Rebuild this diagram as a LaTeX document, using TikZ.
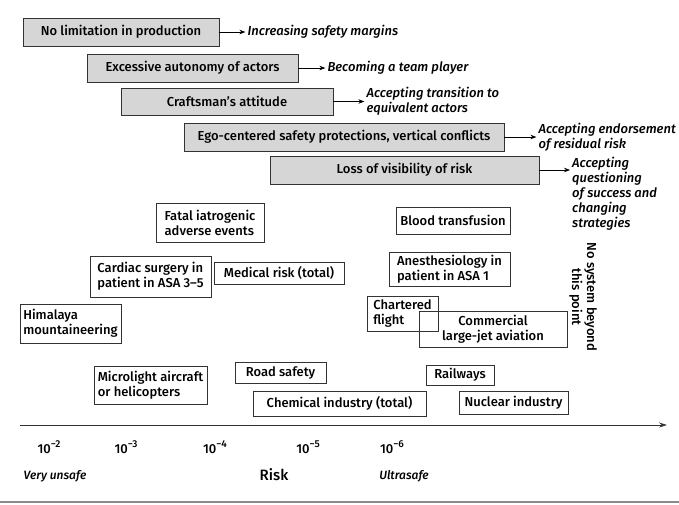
\documentclass[tikz,border=0pt]{standalone}
\usepackage{fontspec}
\setmainfont{Fira Sans}[UprightFont={* Medium}, ItalicFont={* Medium Italic}, BoldFont={* SemiBold}]
\usetikzlibrary{arrows.meta,positioning}
\newcommand{\riskexp}[1]{10\raisebox{0.45em}{\fontsize{10}{10}\selectfont −#1}}

\begin{document}
\begin{tikzpicture}[x=1pt, y=-1pt,
    barrier/.style={rectangle, draw=black!80, fill=black!16, line width=0.8pt, minimum height=28pt, inner sep=2pt, font=\fontsize{13}{15}\selectfont},
    note/.style={inner sep=2pt, align=left, font=\fontsize{13}{15}\selectfont\itshape},
    field/.style={rectangle, draw=black!80, line width=0.8pt, inner sep=3pt, align=left, font=\fontsize{13}{15}\selectfont},
    scalelabel/.style={inner sep=1pt, font=\fontsize{13}{15}\selectfont},
    arrow/.style={-{Stealth[length=6pt,width=4.5pt]}, line width=0.7pt}
]
\useasboundingbox (0,0) rectangle (679,504);

% Barriers and the way past them
\node[barrier, minimum width=196pt] (lim) at (121,32) {No limitation in production};
\node[barrier, minimum width=211pt] (auto) at (192.5,68) {Excessive autonomy of actors};
\node[barrier, minimum width=212pt, minimum height=27pt] (craft) at (227,101.5) {Craftsman's attitude};
\node[barrier, minimum width=320pt] (ego) at (344,137) {Ego-centered safety protections, vertical conflicts};
\node[barrier, minimum width=269pt] (vis) at (404.5,170) {Loss of visibility of risk};

\node[note, right=26pt of lim] (margins) {Increasing safety margins};
\node[note, right=27pt of auto] (team) {Becoming a team player};
\node[note, right=31pt of craft] (trans) {Accepting transition to\\equivalent actors};
\node[note, right=32pt of ego] (resid) {Accepting endorsement\\of residual risk};
\node[note, anchor=north west] (quest) at (570,155) {Accepting\\questioning\\of success and\\changing\\strategies};

\draw[arrow] (lim) -- (margins);
\draw[arrow] (auto) -- (team);
\draw[arrow] (craft) -- (trans);
\draw[arrow] (ego) -- (resid);
\draw[arrow] (vis.east) -- (vis.east -| quest.west);

% Domains by risk level
\node[field, minimum width=108pt, minimum height=39pt] (iatro) at (210,222.5) {Fatal iatrogenic\\adverse events};
\node[field, minimum width=121pt, minimum height=41pt] (cardiac) at (150.5,276.5) {Cardiac surgery in\\patient in ASA 3--5};
\node[field, minimum width=130pt, minimum height=22pt] (medical) at (279,273) {Medical risk (total)};
\node[field, minimum width=101pt, minimum height=39pt] (himalaya) at (70.5,323.5) {Himalaya\\mountaineering};
\node[field, minimum width=113pt, minimum height=38pt] (micro) at (150.5,385) {Microlight aircraft\\or helicopters};
\node[field, minimum width=91pt, minimum height=21pt] (road) at (280.5,372.5) {Road safety};
\node[field, minimum width=173pt, minimum height=25pt] (chem) at (339.5,403.5) {Chemical industry (total)};
\node[field, minimum width=114pt, minimum height=27pt] (blood) at (453,220.5) {Blood transfusion};
\node[field, minimum width=121pt, minimum height=34pt] (anest) at (449.5,269) {Anesthesiology in\\patient in ASA 1};
\node[field, minimum width=71pt, minimum height=35pt] (charter) at (402.5,313.5) {Chartered\\flight};
\node[field, minimum width=148pt, minimum height=36pt, align=center] (jet) at (493,329) {Commercial\\large-jet aviation};
\node[field, minimum width=68pt, minimum height=20pt] (rail) at (460,375) {Railways};
\node[field, minimum width=109pt, minimum height=23pt] (nuclear) at (513.5,402.5) {Nuclear industry};

\node[rotate=-90, align=center, font=\fontsize{13}{15}\selectfont] (limit) at (583,297) {No system beyond\\this point};

% Risk axis
\coordinate (axl) at (20,425);
\coordinate (axr) at (667,425);
\draw[-{Stealth[length=8pt,width=5pt]}, line width=0.8pt, black!80] (axl) -- (axr);

\node[scalelabel] (e2) at (49,447) {\riskexp{2}};
\node[scalelabel] (e3) at (126,447) {\riskexp{3}};
\node[scalelabel] (e4) at (215,447) {\riskexp{4}};
\node[scalelabel] (e5) at (308,447) {\riskexp{5}};
\node[scalelabel] (e6) at (392,447) {\riskexp{6}};

\node[scalelabel, font=\fontsize{12}{14}\selectfont\itshape] (unsafe) at (55,476) {Very unsafe};
\node[scalelabel, font=\fontsize{15}{17}\selectfont] (risk) at (274,475) {Risk};
\node[scalelabel, font=\fontsize{12}{14}\selectfont\itshape] (ultra) at (404,476) {Ultrasafe};

\coordinate (bl) at (0,502);
\coordinate (br) at (679,502);
\draw[line width=1.2pt, black!45] (bl) -- (br);

\end{tikzpicture}
\end{document}
